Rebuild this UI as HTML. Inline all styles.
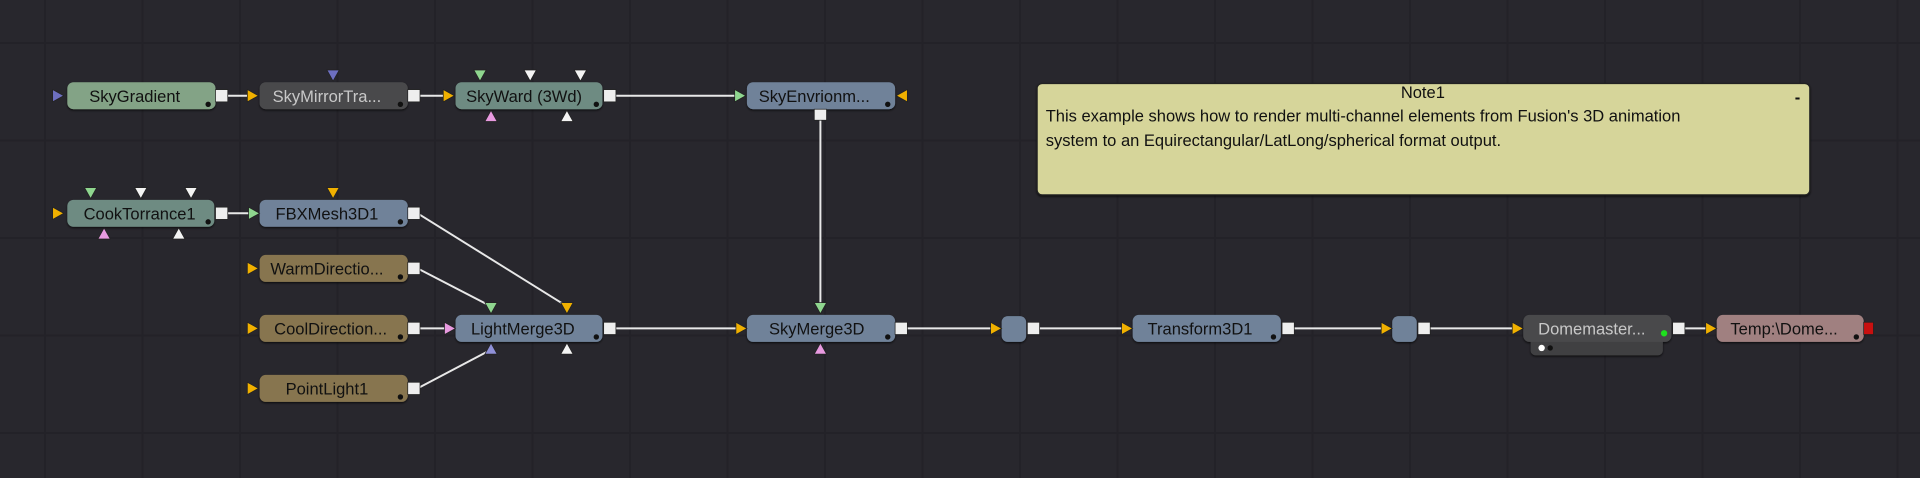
<!DOCTYPE html>
<html><head><meta charset="utf-8"><style>
html,body{margin:0;padding:0;}
body{width:1920px;height:478px;overflow:hidden;background-color:#28272d;
background-image:linear-gradient(to right,#232228 2px,transparent 2px),linear-gradient(to bottom,#232228 2px,transparent 2px);
background-size:97.5px 97.5px;background-position:44px 42px;}
svg{position:absolute;left:0;top:0;}
text{font-family:"Liberation Sans",sans-serif;font-size:13.5px;}
</style></head><body>
<svg width="1920" height="478" viewBox="0 0 1568 390" xmlns="http://www.w3.org/2000/svg">
<defs>
<filter id="sh"><feDropShadow dx="0" dy="1" stdDeviation="0.8" flood-color="#000" flood-opacity="0.7"/></filter>
</defs>
<g stroke="#e8e8e8" stroke-width="1.6" fill="none">
<line x1="186" y1="78" x2="202" y2="78"/>
<line x1="339" y1="78" x2="362" y2="78"/>
<line x1="498" y1="78" x2="604" y2="78"/>
<line x1="670" y1="96" x2="670" y2="248"/>
<line x1="186" y1="174" x2="204" y2="174"/>
<line x1="341" y1="174" x2="463" y2="250"/>
<line x1="341" y1="219" x2="401" y2="250"/>
<line x1="341" y1="268" x2="364" y2="268"/>
<line x1="341" y1="317" x2="398" y2="287"/>
<line x1="498" y1="268" x2="604" y2="268"/>
<line x1="737" y1="268" x2="812" y2="268"/>
<line x1="845" y1="268" x2="918" y2="268"/>
<line x1="1053" y1="268" x2="1131" y2="268"/>
<line x1="1164" y1="268" x2="1237" y2="268"/>
<line x1="1372" y1="268" x2="1395" y2="268"/>
</g>
<g filter="url(#sh)">
<rect x="55" y="67" width="121" height="22" rx="5" fill="#83a386"/>
<rect x="212" y="67" width="121" height="22" rx="5" fill="#4a4a4c"/>
<rect x="372" y="67" width="120" height="22" rx="5" fill="#6e8b82"/>
<rect x="610" y="67" width="121" height="22" rx="5" fill="#6f8299"/>
<rect x="55" y="163" width="120" height="22" rx="5" fill="#6e8b82"/>
<rect x="212" y="163" width="121" height="22" rx="5" fill="#6f8299"/>
<rect x="212" y="208" width="121" height="22" rx="5" fill="#87754f"/>
<rect x="212" y="257" width="121" height="22" rx="5" fill="#87754f"/>
<rect x="212" y="306" width="121" height="22" rx="5" fill="#87754f"/>
<rect x="372" y="257" width="120" height="22" rx="5" fill="#6f8299"/>
<rect x="610" y="257" width="121" height="22" rx="5" fill="#6f8299"/>
<rect x="818" y="258" width="20" height="21" rx="5" fill="#6f8299"/>
<rect x="925" y="257" width="121" height="22" rx="5" fill="#6f8299"/>
<rect x="1137" y="258" width="20" height="21" rx="5" fill="#6f8299"/>
<rect x="1250" y="272" width="108" height="18" rx="4" fill="#404042"/>
<rect x="1244" y="257" width="121" height="22" rx="5" fill="#4a4a4c"/>
<rect x="1402" y="257" width="120" height="22" rx="5" fill="#a08080"/>
<rect x="847" y="68" width="631" height="91" rx="4" fill="#d6d59a" stroke="#222" stroke-width="1"/>
</g>
<g fill="#111">
<text x="110" y="83" text-anchor="middle">SkyGradient</text>
<text x="267" y="83" text-anchor="middle" fill="#c8c8c8">SkyMirrorTra...</text>
<text x="428" y="83" text-anchor="middle">SkyWard  (3Wd)</text>
<text x="665" y="83" text-anchor="middle">SkyEnvrionm...</text>
<text x="114" y="179" text-anchor="middle">CookTorrance1</text>
<text x="267" y="179" text-anchor="middle">FBXMesh3D1</text>
<text x="267" y="224" text-anchor="middle">WarmDirectio...</text>
<text x="270" y="273" text-anchor="middle">CoolDirection...</text>
<text x="267" y="322" text-anchor="middle">PointLight1</text>
<text x="427" y="273" text-anchor="middle">LightMerge3D</text>
<text x="667" y="273" text-anchor="middle">SkyMerge3D</text>
<text x="980" y="273" text-anchor="middle">Transform3D1</text>
<text x="1300" y="273" text-anchor="middle" fill="#c8c8c8">Domemaster...</text>
<text x="1457" y="273" text-anchor="middle">Temp:\Dome...</text>
<text x="1162" y="80" text-anchor="middle" font-size="13">Note1</text>
<text x="1468" y="84" text-anchor="middle" font-weight="bold">-</text>
<text x="854" y="99" font-size="12.6">This example shows how to render multi-channel elements from Fusion's 3D animation</text>
<text x="854" y="119" font-size="12.6">system to an Equirectangular/LatLong/spherical format output.</text>
</g>
<g fill="#111">
<circle cx="170" cy="85" r="2.2"/><circle cx="327" cy="85" r="2.2"/><circle cx="487" cy="85" r="2.2"/><circle cx="725" cy="85" r="2.2"/>
<circle cx="170" cy="181" r="2.2"/><circle cx="327" cy="181" r="2.2"/><circle cx="327" cy="226" r="2.2"/><circle cx="327" cy="275" r="2.2"/><circle cx="327" cy="324" r="2.2"/>
<circle cx="487" cy="275" r="2.2"/><circle cx="725" cy="275" r="2.2"/><circle cx="1040" cy="275" r="2.2"/><circle cx="1516" cy="275" r="2.2"/>
<circle cx="1266" cy="284" r="2.2"/>
</g>
<circle cx="1359" cy="272" r="2.6" fill="#1ee01e"/>
<circle cx="1259" cy="284" r="2.6" fill="#fff"/>
<g fill="#eee" stroke="#222" stroke-width="0.6">
<rect x="176" y="73" width="10" height="10"/><rect x="333" y="73" width="10" height="10"/><rect x="493" y="73" width="10" height="10"/>
<rect x="665" y="89" width="10" height="9"/>
<rect x="176" y="169" width="10" height="10"/><rect x="333" y="169" width="10" height="10"/><rect x="333" y="214" width="10" height="10"/>
<rect x="333" y="263" width="10" height="10"/><rect x="333" y="312" width="10" height="10"/>
<rect x="493" y="263" width="10" height="10"/><rect x="731" y="263" width="10" height="10"/><rect x="839" y="263" width="10" height="10"/>
<rect x="1047" y="263" width="10" height="10"/><rect x="1158" y="263" width="10" height="10"/><rect x="1366" y="263" width="10" height="10"/>
</g>
<rect x="1522" y="263" width="8" height="10" fill="#c81010" stroke="#222" stroke-width="0.6"/>
<g stroke="#222" stroke-width="0.6">
<polygon points="43,73 52,78 43,83" fill="#6d6fc0"/>
<polygon points="202,73 211,78 202,83" fill="#f0b000"/>
<polygon points="362,73 371,78 362,83" fill="#f0b000"/>
<polygon points="600,73 609,78 600,83" fill="#8fd68f"/>
<polygon points="741,73 732,78 741,83" fill="#f0b000"/>
<polygon points="43,169 52,174 43,179" fill="#f0b000"/>
<polygon points="203,169 212,174 203,179" fill="#8fd68f"/>
<polygon points="202,214 211,219 202,224" fill="#f0b000"/>
<polygon points="202,263 211,268 202,273" fill="#f0b000"/>
<polygon points="202,312 211,317 202,322" fill="#f0b000"/>
<polygon points="363,263 372,268 363,273" fill="#e89ae0"/>
<polygon points="601,263 610,268 601,273" fill="#f0b000"/>
<polygon points="809,263 818,268 809,273" fill="#f0b000"/>
<polygon points="916,263 925,268 916,273" fill="#f0b000"/>
<polygon points="1128,263 1137,268 1128,273" fill="#f0b000"/>
<polygon points="1235,263 1244,268 1235,273" fill="#f0b000"/>
<polygon points="1393,263 1402,268 1393,273" fill="#f0b000"/>
<polygon points="267,57 277,57 272,66" fill="#6d6fc0"/>
<polygon points="387,57 397,57 392,66" fill="#8fd68f"/>
<polygon points="428,57 438,57 433,66" fill="#f4f4f4"/>
<polygon points="469,57 479,57 474,66" fill="#f4f4f4"/>
<polygon points="69,153 79,153 74,162" fill="#8fd68f"/>
<polygon points="110,153 120,153 115,162" fill="#f4f4f4"/>
<polygon points="151,153 161,153 156,162" fill="#f4f4f4"/>
<polygon points="267,153 277,153 272,162" fill="#f0b000"/>
<polygon points="396,247 406,247 401,256" fill="#8fd68f"/>
<polygon points="458,247 468,247 463,256" fill="#f0b000"/>
<polygon points="665,247 675,247 670,256" fill="#8fd68f"/>
<polygon points="396,99 406,99 401,90" fill="#e89ae0"/>
<polygon points="458,99 468,99 463,90" fill="#f4f4f4"/>
<polygon points="80,195 90,195 85,186" fill="#e89ae0"/>
<polygon points="141,195 151,195 146,186" fill="#f4f4f4"/>
<polygon points="396,289 406,289 401,280" fill="#8f90d8"/>
<polygon points="458,289 468,289 463,280" fill="#f4f4f4"/>
<polygon points="665,289 675,289 670,280" fill="#e89ae0"/>
</g>
</svg>
</body></html>
